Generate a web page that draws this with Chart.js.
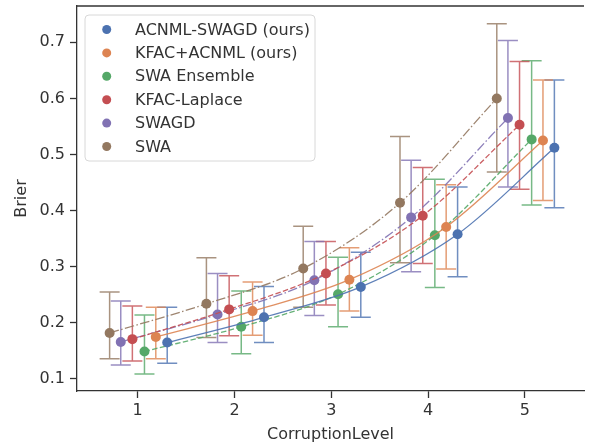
<!DOCTYPE html>
<html>
<head>
<meta charset="utf-8">
<script src="https://cdn.jsdelivr.net/npm/chart.js@4.4.1/dist/chart.umd.min.js"></script>
<style>
  html, body { margin: 0; padding: 0; background: #fff; overflow: hidden; }
  canvas { display: block; }
</style>
</head>
<body>
<canvas id="chart" width="589" height="445"></canvas>
<script>
/* Brier score vs corruption level, one dodged errorbar series per method. */

const levels = [1, 2, 3, 4, 5];
const yTicks = [0.1, 0.2, 0.3, 0.4, 0.5, 0.6, 0.7];

const methods = ['ACNML-SWAGD (ours)', 'KFAC+ACNML (ours)', 'SWA Ensemble', 'KFAC-Laplace', 'SWAGD', 'SWA'];
// dodge of each method around its corruption level
const offsets = [0.305, 0.187, 0.07, -0.055, -0.175, -0.29];

// mean Brier per method, levels 1..5
const means = [
  [0.165, 0.210, 0.264, 0.358, 0.512],
  [0.175, 0.221, 0.277, 0.371, 0.525],
  [0.149, 0.193, 0.251, 0.356, 0.527],
  [0.171, 0.224, 0.288, 0.391, 0.553],
  [0.166, 0.215, 0.276, 0.388, 0.565],
  [0.182, 0.234, 0.297, 0.414, 0.600],
];
const lows = [
  [0.128, 0.165, 0.210, 0.282, 0.405],
  [0.136, 0.178, 0.221, 0.296, 0.418],
  [0.109, 0.145, 0.193, 0.263, 0.410],
  [0.132, 0.177, 0.232, 0.306, 0.438],
  [0.125, 0.165, 0.213, 0.291, 0.442],
  [0.136, 0.174, 0.228, 0.307, 0.469],
];
const highs = [
  [0.228, 0.265, 0.326, 0.442, 0.633],
  [0.228, 0.273, 0.334, 0.446, 0.633],
  [0.214, 0.257, 0.317, 0.456, 0.667],
  [0.230, 0.284, 0.345, 0.477, 0.666],
  [0.239, 0.288, 0.345, 0.490, 0.703],
  [0.255, 0.316, 0.372, 0.532, 0.733],
];

const COLORS = ['#4C72B0', '#DD8452', '#55A868', '#C44E52', '#8172B3', '#937860'];
const DASHES = [[], [], [5.5, 2.4], [5.5, 2.4], [9.6, 2.4, 1.5, 2.4], [9.6, 2.4, 1.5, 2.4]];
const INK = '#333333';
const FONT = '"DejaVu Sans", sans-serif';

function rgba(hex, a) {
  const n = parseInt(hex.slice(1), 16);
  return `rgba(${(n >> 16) & 255},${(n >> 8) & 255},${n & 255},${a})`;
}

Chart.defaults.font.family = FONT;
Chart.defaults.font.size = 16;
Chart.defaults.color = INK;

const errorBars = {
  id: 'errorBars',
  beforeDatasetsDraw(chart) {
    const { ctx, scales: { x, y } } = chart;
    ctx.save();
    ctx.lineWidth = 1.5;
    methods.forEach((_, m) => {
      ctx.strokeStyle = rgba(COLORS[m], 0.8);
      levels.forEach((lv, i) => {
        const px = x.getPixelForValue(lv + offsets[m]);
        const top = y.getPixelForValue(highs[m][i]);
        const bot = y.getPixelForValue(lows[m][i]);
        ctx.beginPath();
        ctx.moveTo(px, top); ctx.lineTo(px, bot);
        ctx.moveTo(px - 10, top); ctx.lineTo(px + 10, top);
        ctx.moveTo(px - 10, bot); ctx.lineTo(px + 10, bot);
        ctx.stroke();
      });
    });
    ctx.restore();
  },
};

// top spine + matplotlib-style boxed legend in the upper left
const frameLegend = {
  id: 'frameLegend',
  afterDraw(chart) {
    const { ctx, chartArea: a } = chart;
    ctx.save();
    ctx.strokeStyle = INK;
    ctx.lineWidth = 1.3;
    ctx.beginPath();
    ctx.moveTo(a.left, a.top); ctx.lineTo(a.right, a.top);
    ctx.stroke();

    const left = a.left + 8, top = a.top + 9;
    ctx.beginPath();
    ctx.roundRect(left, top, 230, 146, 4);
    ctx.fillStyle = 'rgba(255,255,255,0.8)';
    ctx.fill();
    ctx.strokeStyle = '#d8d8d8';
    ctx.lineWidth = 1;
    ctx.stroke();

    ctx.font = '16px ' + FONT;
    ctx.textBaseline = 'middle';
    methods.forEach((name, m) => {
      const cy = top + 14.5 + m * 23.4;
      ctx.fillStyle = COLORS[m];
      ctx.beginPath();
      ctx.arc(left + 21.7, cy, 4.5, 0, Math.PI * 2);
      ctx.fill();
      ctx.fillStyle = INK;
      ctx.fillText(name, left + 50, cy + 1);
    });
    ctx.restore();
  },
};

const datasets = methods.map((name, m) => ({
  label: name,
  data: levels.map((lv, i) => ({ x: lv + offsets[m], y: means[m][i] })),
  showLine: true,
  borderColor: rgba(COLORS[m], 0.9),
  borderWidth: 1.3,
  borderDash: DASHES[m],
  backgroundColor: COLORS[m],
  pointBackgroundColor: COLORS[m],
  pointBorderWidth: 0,
  pointRadius: 5,
  cubicInterpolationMode: 'monotone',
}));

new Chart(document.getElementById('chart'), {
  type: 'scatter',
  data: { datasets },
  options: {
    responsive: false,
    animation: false,
    layout: { padding: { top: 6, right: 0, left: 0, bottom: 0 } },
    plugins: { legend: { display: false }, tooltip: { enabled: false } },
    scales: {
      x: {
        type: 'linear',
        min: 0.373,
        max: 5.611,
        afterBuildTicks: (s) => { s.ticks = levels.map((v) => ({ value: v })); },
        afterFit: (s) => { s.height = 54; s.paddingLeft = 0; s.paddingRight = 0; },
        ticks: { color: INK, padding: 3, autoSkip: false, maxRotation: 0, callback: (v) => String(v) },
        grid: { drawOnChartArea: false, tickLength: 7, tickColor: INK, tickWidth: 1.3 },
        border: { color: INK, width: 1.3 },
        title: { display: true, text: 'CorruptionLevel', color: INK, padding: { top: 0, bottom: 1 } },
      },
      y: {
        type: 'linear',
        min: 0.0786,
        max: 0.7647,
        afterBuildTicks: (s) => { s.ticks = yTicks.map((v) => ({ value: v })); },
        afterFit: (s) => { s.width = 77; s.paddingTop = 0; s.paddingBottom = 0; },
        ticks: { color: INK, padding: 5, callback: (v) => v.toFixed(1) },
        grid: { drawOnChartArea: false, tickLength: 7, tickColor: INK, tickWidth: 1.3 },
        border: { color: INK, width: 1.3 },
        title: { display: true, text: 'Brier', color: INK, padding: { top: 12, bottom: 0 } },
      },
    },
  },
  plugins: [errorBars, frameLegend],
});
</script>
</body>
</html>
